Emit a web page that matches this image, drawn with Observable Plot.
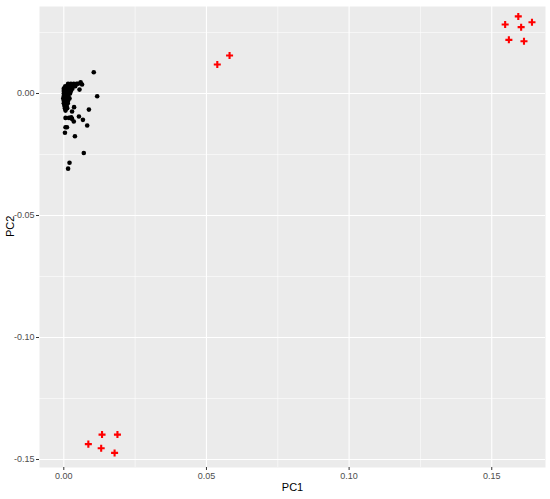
<!DOCTYPE html>
<html><head><meta charset="utf-8">
<script src="https://cdn.jsdelivr.net/npm/d3@7"></script>
<script src="https://cdn.jsdelivr.net/npm/@observablehq/plot@0.6"></script>
<style>body{margin:0;background:#fff}</style>
</head><body><div id="chart"></div>
<script>
// Black points (PC1, PC2)
const blackPC1 = [
  0.0015,0.0025,0.0035,0.0045,0.005,
  0.0005,0.0012,0.002,0.003,0.004,
  0.0,0.001,0.002,0.003,
  0.0,0.0008,0.0016,0.0025,
  0.0,0.0007,0.0015,0.0022,
  0.0,0.0008,0.0016,
  -0.0002,0.0006,0.0014,0.002,
  0.0,0.0008,0.0015,
  0.0,0.0008,0.0014,
  0.0002,0.001,
  0.0004,0.0012,
  0.0006,
  0.0059,0.0064,0.0055,0.0117,0.0105,0.0088,0.0036,0.0029,
  0.0006,0.0018,0.0029,0.0035,0.0053,0.0067,0.0082,0.0006,0.0011,
  0.0004,0.0039,0.0070,0.0020,0.0015,0.0026
];
const blackPC2 = [
  0.004,0.004,0.004,0.004,0.004,
  0.003,0.003,0.003,0.003,0.003,
  0.002,0.002,0.002,0.002,
  0.001,0.001,0.001,0.001,
  0.0,0.0,0.0,0.0,
  -0.001,-0.001,-0.001,
  -0.002,-0.002,-0.002,-0.002,
  -0.003,-0.003,-0.003,
  -0.004,-0.004,-0.004,
  -0.005,-0.005,
  -0.006,-0.006,
  -0.007,
  0.0046,0.0037,0.0016,-0.0011,0.0087,-0.0066,-0.0056,-0.0074,
  -0.0100,-0.0100,-0.0104,-0.0115,-0.0094,-0.0108,-0.0131,-0.0138,-0.0138,
  -0.0161,-0.0175,-0.0244,-0.0284,-0.0308,-0.0097
];
// Red plus points (PC1, PC2)
const redPC1 = [0.1547,0.1593,0.1603,0.1641,0.1560,0.1613, 0.0538,0.0581, 0.0086,0.0134,0.0188,0.0131,0.0178];
const redPC2 = [0.0283,0.0316,0.0272,0.0292,0.0220,0.0214, 0.0119,0.0156, -0.1437,-0.1398,-0.1398,-0.1454,-0.1473];

const xTicks = [0, 0.05, 0.10, 0.15];
const yTicks = [0, -0.05, -0.10, -0.15];
const xMinor = [0.025, 0.075, 0.125];
const yMinor = [0.025, -0.025, -0.075, -0.125];
const xTitle = ["PC1"];
const yTitle = ["PC2"];

const black = blackPC1.map((x, i) => ({x, y: blackPC2[i]}));
const red = redPC1.map((x, i) => ({x, y: redPC2[i]}));

const chart = Plot.plot({
  width: 550,
  height: 499,
  marginLeft: 39,
  marginRight: 5,
  marginTop: 6,
  marginBottom: 32,
  style: {fontFamily: "'Liberation Sans', Arial, sans-serif", fontSize: "9px", background: "#fff"},
  x: {domain: [-0.00852, 0.16884]},
  y: {domain: [-0.15328, 0.03566]},
  marks: [
    Plot.frame({fill: "#EBEBEB", stroke: null}),
    Plot.ruleX(xMinor, {stroke: "#fff", strokeWidth: 0.55}),
    Plot.ruleY(yMinor, {stroke: "#fff", strokeWidth: 0.55}),
    Plot.ruleX(xTicks, {stroke: "#fff", strokeWidth: 1.1}),
    Plot.ruleY(yTicks, {stroke: "#fff", strokeWidth: 1.1}),
    Plot.axisX({ticks: xTicks, tickFormat: d => d.toFixed(2), tickSize: 3, tickPadding: 2, label: null, color: "#4D4D4D", stroke: "#333"}),
    Plot.axisY({ticks: yTicks, tickFormat: d => d.toFixed(2), tickSize: 3, tickPadding: 2, label: null, color: "#4D4D4D", stroke: "#333"}),
    Plot.text(xTitle, {text: d => d, frameAnchor: "bottom", dy: 23, fontSize: 11, fill: "#000"}),
    Plot.text(yTitle, {text: d => d, frameAnchor: "left", rotate: -90, dx: -29, fontSize: 11, fill: "#000"}),
    Plot.dot(black, {x: "x", y: "y", r: 2.3, fill: "#000", stroke: null}),
    Plot.dot(red, {x: "x", y: "y", symbol: "plus", r: 2.4, stroke: "#FF0000", strokeWidth: 2.1, fill: "none"})
  ]
});
document.getElementById("chart").append(chart);
</script>
</body></html>
